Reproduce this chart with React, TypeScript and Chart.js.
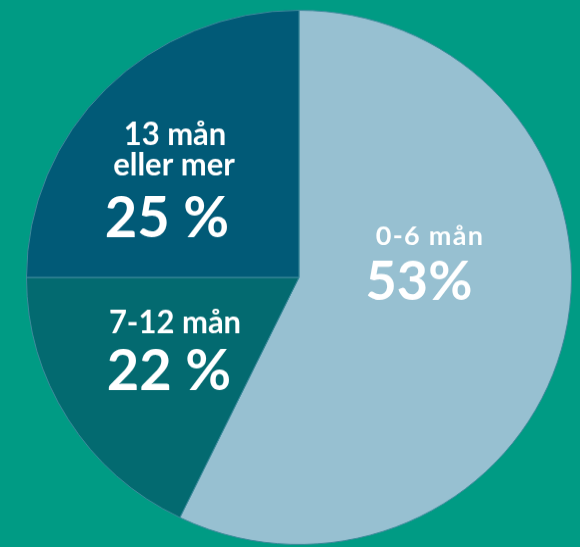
import React, { useEffect, useRef } from "react";
import { Chart, registerables } from "chart.js";

Chart.register(...registerables);

const categories = ["0-6 mån", "7-12 mån", "13 mån eller mer"];
const sliceValues = [57.2, 17.8, 25];
const percentLabels = ["53%", "22 %", "25 %"];
const sliceColors = ["#97C0D1", "#036A70", "#015A77"];

const BG = "#009B84";
const SCALE_Y = 0.98;

const labelPlugin = {
  id: "sliceLabels",
  afterDraw(chart: any) {
    const ctx = chart.ctx;
    ctx.save();
    ctx.scale(1, 1 / SCALE_Y);
    ctx.fillStyle = "#ffffff";
    ctx.textAlign = "center";
    ctx.textBaseline = "alphabetic";
    const draw = (t: string, x: number, y: number, size: number, ls = 0) => {
      ctx.font = `bold ${size}px Lato`;
      (ctx as any).letterSpacing = `${ls}px`;
      ctx.fillText(t, x, y);
    };
    // 0-6 mån
    draw(categories[0], 430, 245, 27, 1.3);
    draw(percentLabels[0], 419, 300, 54);
    // 7-12 mån
    draw(categories[1], 175, 333, 31);
    draw(percentLabels[1], 169, 390, 56);
    // 13 mån eller mer
    draw("13 mån", 175, 145, 31);
    draw("eller mer", 174, 175, 31);
    draw(percentLabels[2], 167, 237, 56);
    ctx.restore();
  },
};

export default function App() {
  const ref = useRef<HTMLCanvasElement>(null);
  useEffect(() => {
    if (!ref.current) return;
    const chart = new Chart(ref.current, {
      type: "pie",
      data: {
        labels: categories,
        datasets: [
          {
            data: sliceValues,
            backgroundColor: sliceColors,
            borderColor: "#3F8A9C",
            borderWidth: 1,
          },
        ],
      },
      options: {
        responsive: false,
        maintainAspectRatio: false,
        animation: false,
        devicePixelRatio: 1,
        layout: { padding: { left: 26, right: 8, top: 10, bottom: 10 } },
        plugins: {
          legend: { display: false },
          tooltip: { enabled: false },
        },
      },
      plugins: [labelPlugin],
    });
    return () => chart.destroy();
  }, []);

  return (
    <div
      style={{
        position: "fixed",
        left: 0,
        top: 0,
        width: 580,
        height: 547,
        background: BG,
        overflow: "hidden",
      }}
    >
      <div
        style={{
          width: 580,
          height: 566,
          transform: `scaleY(${SCALE_Y})`,
          transformOrigin: "0 0",
        }}
      >
        <canvas
          ref={ref}
          width={580}
          height={566}
          style={{ width: 580, height: 566, display: "block" }}
        />
      </div>
    </div>
  );
}
